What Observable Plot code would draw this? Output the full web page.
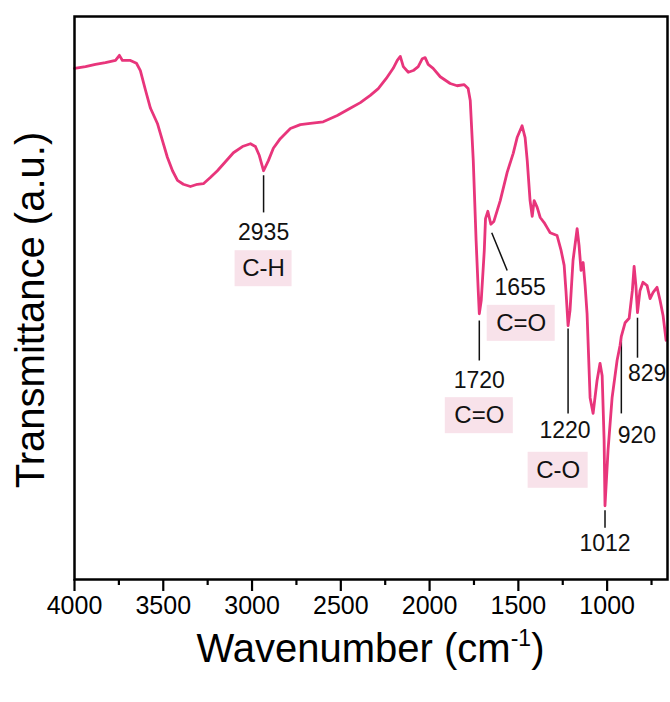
<!DOCTYPE html>
<html>
<head>
<meta charset="utf-8">
<script src="https://cdn.jsdelivr.net/npm/d3@7"></script>
<script src="https://cdn.jsdelivr.net/npm/@observablehq/plot@0.6"></script>
<style>
  html, body { margin: 0; padding: 0; background: #fff; }
  body { font-family: "Liberation Sans", Arial, sans-serif; }
  #wrap { position: relative; width: 670px; height: 702px; }
  #xtitle { position: absolute; left: 74px; width: 593px; top: 628px; text-align: center;
            font-size: 40px; line-height: 40px; color: #000; white-space: nowrap; }
  #xtitle sup { font-size: 23px; line-height: 0; vertical-align: 16px; }
</style>
</head>
<body>
<div id="wrap"><div id="chart"></div><div id="xtitle">Wavenumber (cm<sup>-1</sup>)</div></div>
<script>
// Spectrum (wavenumber in cm-1, transmittance in a.u.)
const wavenumber = [4000,3938,3882,3826,3769,3747,3730,3685,3651,3629,
  3600,3572,3533,3505,3477,3448,3420,3387,3347,3308,
  3274,3235,3195,3150,3105,3054,3009,2981,2959,2935,
  2908,2880,2841,2784,2728,2672,2599,2520,2447,2390,
  2334,2289,2244,2205,2182,2165,2148,2120,2092,2064,
  2041,2025,2008,1980,1940,1884,1845,1805,1783,1771,
  1754,1738,1726,1720,1709,1692,1685,1672,1655,1638,
  1602,1563,1529,1507,1479,1462,1450,1434,1422,1411,
  1394,1377,1355,1338,1321,1282,1259,1242,1232,1220,
  1209,1192,1169,1158,1147,1135,1124,1113,1096,1079,
  1057,1040,1028,1017,1012,995,972,944,927,920,
  899,876,858,848,838,829,815,798,775,758,741,719,702,685,668];
const transmittance = [90.8,91.1,91.5,91.8,92.2,93.1,92.2,92.2,91.7,90.4,
  86.9,83.7,81.0,78.0,75.0,72.6,70.9,70.2,69.8,70.2,
  70.3,71.4,72.6,74.2,75.8,76.9,77.4,76.9,75.3,72.6,
  74.4,76.6,78.3,80.1,80.8,81.0,81.3,82.4,83.7,84.7,
  86.0,87.2,89.0,90.8,92.2,92.9,91.1,90.1,90.4,91.1,
  92.5,92.7,91.5,90.8,89.3,88.1,87.7,87.9,87.2,85.1,
  74.4,60.2,51.3,47.2,49.6,58.4,64.1,65.4,63.1,63.6,
  67.3,72.3,75.7,78.5,80.6,78.5,74.4,67.3,64.5,67.3,
  66.1,64.3,63.4,62.5,61.6,61.1,58.4,55.8,51.3,45.1,
  47.8,56.7,62.3,59.3,54.9,56.3,52.2,47.2,32.3,29.5,
  35.3,38.4,36.2,24.7,13.1,22.9,32.3,38.9,41.6,43.2,
  45.6,46.4,51.3,55.6,52.2,47.4,51.3,52.8,52.2,49.9,51.0,51.9,49.6,46.9,42.5];

// Tick labels
const majorTicks = [4000, 3500, 3000, 2500, 2000, 1500, 1000];
const minorTicks = [3750, 3250, 2750, 2250, 1750, 1250, 750];

// Peak annotations
const peakLabels = ["2935", "1720", "1655", "1220", "1012", "920", "829"];
const peakLabelX = [2935, 1720, 1490, 1237, 1012, 832, 775];
const peakLabelY = [61.6, 35.3, 51.9, 26.5, 6.4, 25.6, 36.6];
const leaderX1 = [2935, 1720, 1650, 1220, 1012, 920, 829];
const leaderY1 = [71.8, 46.0, 61.6, 44.6, 12.3, 42.5, 46.5];
const leaderX2 = [2935, 1720, 1563, 1220, 1012, 920, 829];
const leaderY2 = [65.2, 38.9, 54.9, 29.5, 9.2, 29.5, 39.4];

// Bond labels
const bondLabels = ["C-H", "C=O", "C=O", "C-O"];
const bondX = [2935, 1720, 1484, 1276];
const bondY = [55.2, 29.1, 45.5, 19.4];

const n = Math.min(wavenumber.length, transmittance.length);
const spectrum = d3.range(n).map(i => ({wn: wavenumber[i], t: transmittance[i]}));
const peaks = peakLabels.map((s, i) => ({label: s, x: peakLabelX[i], y: peakLabelY[i],
  x1: leaderX1[i], y1: leaderY1[i], x2: leaderX2[i], y2: leaderY2[i]}));
const bonds = bondLabels.map((s, i) => ({label: s, x: bondX[i], y: bondY[i]}));

const W = 670, H = 625, mL = 74, mR = 3, mT = 16, mB = 46;
const xDom = [4000, 660], yDom = [0, 100];
const cmPerPx = (xDom[0] - xDom[1]) / (W - mL - mR);
const uPerPx = (yDom[1] - yDom[0]) / (H - mT - mB);
const boxHalfW = s => (s === "C-H" ? 28.5 : s === "C-O" ? 30 : 34) * cmPerPx;
const boxHalfH = 18 * uPerPx;

const font = "Liberation Sans, Arial, sans-serif";
const chart = Plot.plot({
  width: W, height: H,
  marginLeft: mL, marginRight: mR, marginTop: mT, marginBottom: mB,
  style: {fontFamily: font, fontSize: "25px", color: "#000", background: "#fff"},
  x: {domain: xDom, label: null},
  y: {domain: yDom, axis: null},
  marks: [
    Plot.rect(bonds, {x1: d => d.x + boxHalfW(d.label), x2: d => d.x - boxHalfW(d.label),
      y1: d => d.y - boxHalfH, y2: d => d.y + boxHalfH, fill: "#f8e2ea"}),
    Plot.text(bonds, {x: "x", y: "y", text: "label", fontSize: 24, fill: "#111"}),
    Plot.link(peaks, {x1: "x1", y1: "y1", x2: "x2", y2: "y2", stroke: "#111", strokeWidth: 1.5}),
    Plot.text(peaks, {x: "x", y: "y", text: "label", fontSize: 23, fill: "#111"}),
    Plot.line(spectrum, {x: "wn", y: "t", stroke: "#e8357b", strokeWidth: 2.8, strokeLinejoin: "round"}),
    Plot.axisX({ticks: minorTicks, tickSize: 6, text: null, strokeWidth: 2.2}),
    Plot.axisX({ticks: majorTicks, tickSize: 12, tickPadding: 5, tickFormat: d => String(d),
      fontSize: 25, strokeWidth: 2.2, label: null}),
    Plot.frame({stroke: "#000", strokeWidth: 2.5}),
    Plot.text(["Transmittance (a.u.)"], {frameAnchor: "left", textAnchor: "middle", lineAnchor: "middle",
      rotate: -90, dx: -43, dy: 12, fontSize: 40, fill: "#000"})
  ]
});
document.getElementById("chart").appendChild(chart);
</script>
</body>
</html>
